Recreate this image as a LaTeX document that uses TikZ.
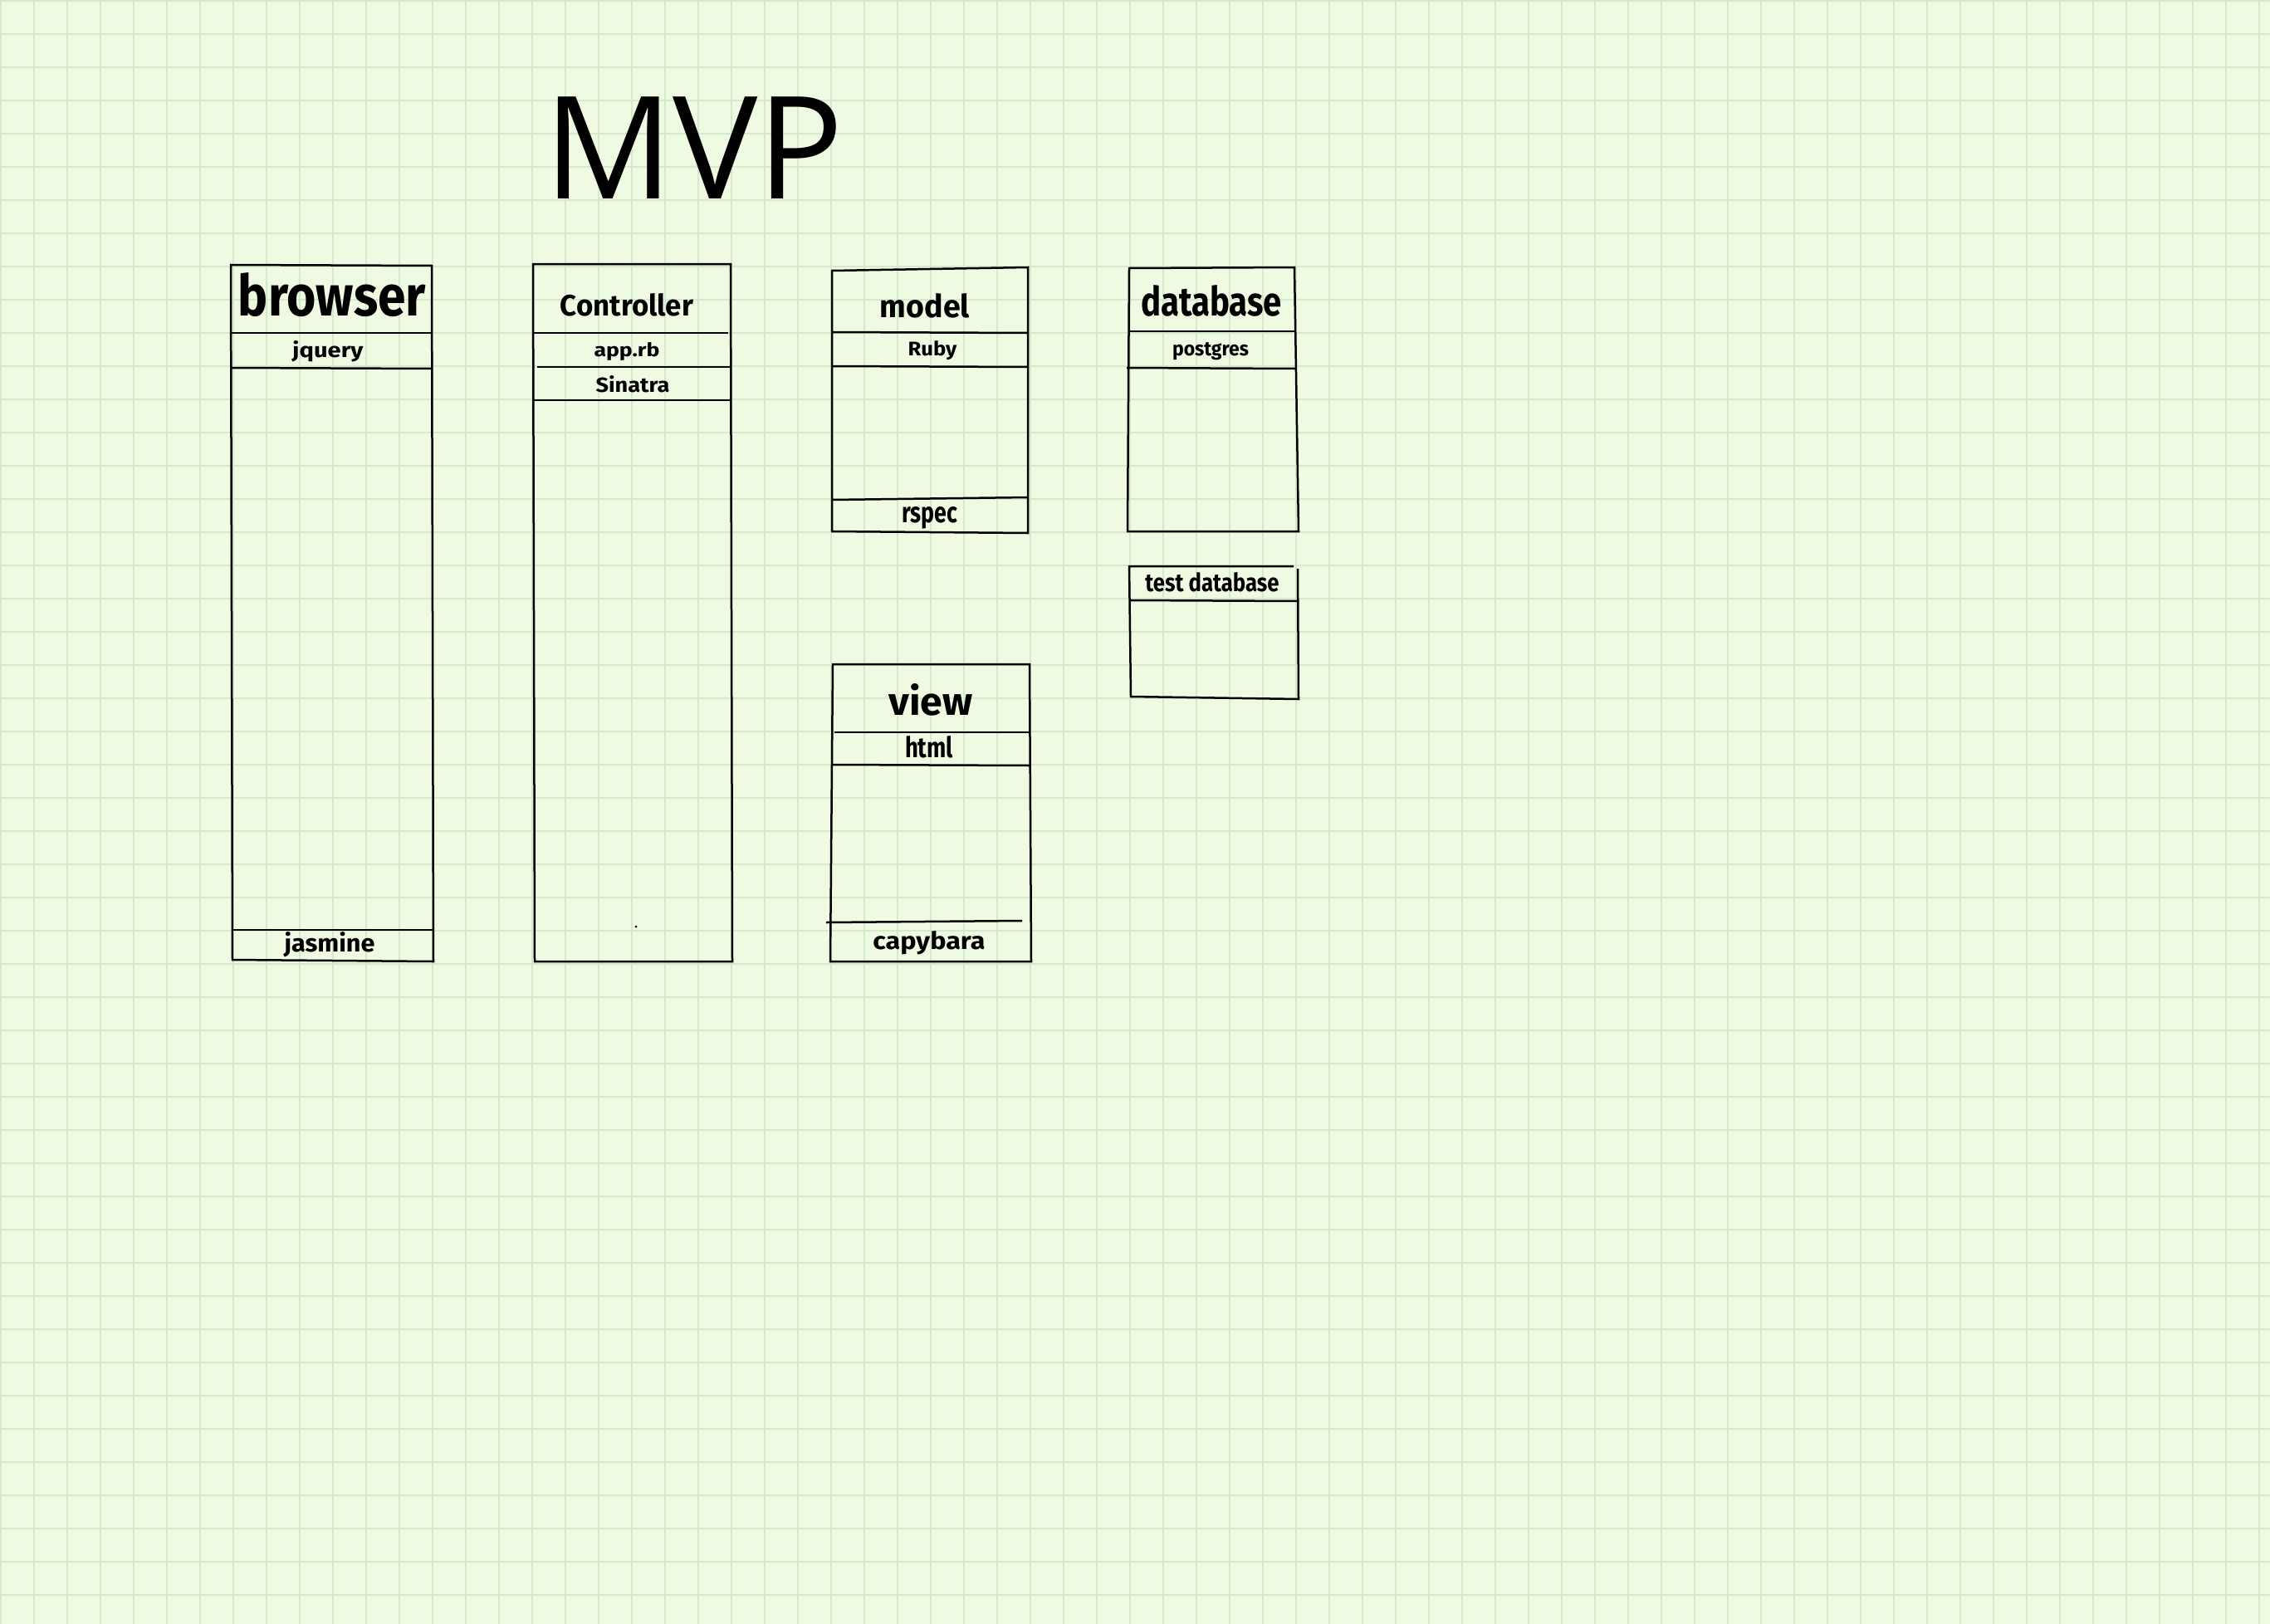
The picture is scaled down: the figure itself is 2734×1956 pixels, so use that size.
\documentclass[tikz,border=0pt]{standalone}
\usepackage{fontspec}
\usepackage{graphicx}
\newfontfamily\handfont{Fira Sans}
\newfontfamily\titlefont{Open Sans}
\definecolor{paper}{RGB}{238,250,225}
\definecolor{gridc}{RGB}{211,234,204}
\newcommand{\hw}[3]{\resizebox{#1pt}{#2pt}{\handfont\bfseries #3}}
\begin{document}
\begin{tikzpicture}[x=1pt,y=-1pt,
  box/.style={line width=2.5pt, black, line join=miter},
  gridline/.style={gridc, line width=2.5pt},
  lbl/.style={anchor=base, inner sep=0pt, outer sep=0pt}]
\useasboundingbox (0,0) rectangle (2734,1956);
\fill[paper] (0,0) rectangle (2734,1956);
\foreach \i in {0,...,68} \draw[gridline] ({1+40*\i},0) -- ({1+40*\i},1956);
\foreach \j in {0,...,48} \draw[gridline] (0,{1+40*\j}) -- (2734,{1+40*\j});

% title
\node[anchor=base west, inner sep=0pt] (title) at (655,239) {\titlefont\fontsize{172}{172}\selectfont MVP};

% browser
\draw[box] (278,319) -- (520,320) -- (522,1158) -- (280,1156) -- cycle;
\draw[box] (278,401) -- (520,401);
\draw[box] (278,443) -- (520,444);
\draw[box] (280,1120) -- (522,1120);
\node[lbl] (browserT) at (400,380) {\hw{226}{52}{browser}};
\node[lbl] (jquery) at (395,430) {\hw{85}{20}{jquery}};
\node[lbl] (jasmine) at (397,1146) {\hw{109}{24}{jasmine}};

% controller
\draw[box] (642,318) -- (880,318) -- (882,1158) -- (644,1158) -- cycle;
\draw[box] (642,401) -- (877,401);
\draw[box] (647,442) -- (880,442);
\draw[box] (642,482) -- (880,482);
\node[lbl] (ctrl) at (755,380) {\hw{160}{27}{Controller}};
\node[lbl] (apprb) at (755,429) {\hw{79}{17}{app.rb}};
\node[lbl] (sinatra) at (762,472) {\hw{89}{20}{Sinatra}};
\fill (766,1116) circle (1.5);

% model
\draw[box] (1002,326) -- (1238,322) -- (1238,642) -- (1002,640) -- cycle;
\draw[box] (1002,400) -- (1238,401);
\draw[box] (1002,441) -- (1238,442);
\draw[box] (1002,602) -- (1238,599);
\node[lbl] (model) at (1114,382) {\hw{108}{29}{model}};
\node[lbl] (ruby) at (1123,428) {\hw{59}{18}{Ruby}};
\node[lbl] (rspec) at (1120,629) {\hw{67}{19}{rspec}};

% database
\draw[box] (1360,323) -- (1559,322) -- (1564,640) -- (1358,640) -- cycle;
\draw[box] (1360,399) -- (1559,399);
\draw[box] (1357,443) -- (1560,444);
\node[lbl] (db) at (1459,380) {\hw{170}{37}{database}};
\node[lbl] (pg) at (1458,428) {\hw{92}{16}{postgres}};

% test database
\draw[box] (1558,682) -- (1360,682) -- (1362,839) -- (1564,842) -- (1563,685);
\draw[box] (1360,723) -- (1563,724);
\node[lbl] (testdb) at (1460,712) {\hw{161}{23}{test database}};

% view
\draw[box] (1003,800) -- (1240,800) -- (1242,1158) -- (1000,1158) -- cycle;
\draw[box] (1005,882) -- (1240,882);
\draw[box] (1002,921) -- (1240,922);
\draw[box] (995,1111) -- (1231,1109);
\node[lbl] (view) at (1121,861) {\hw{101}{38}{view}};
\node[lbl] (html) at (1119,912) {\hw{58}{26}{html}};
\node[lbl] (capy) at (1119,1143) {\hw{135}{22}{capybara}};
\end{tikzpicture}
\end{document}
